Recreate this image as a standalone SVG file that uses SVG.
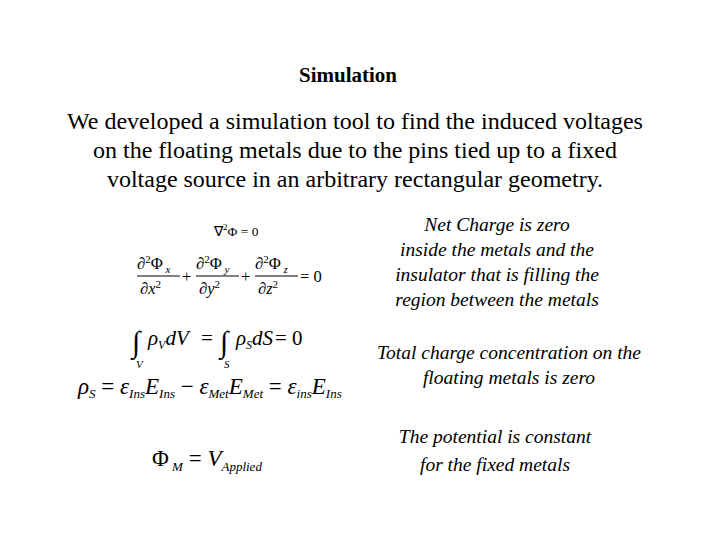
<svg xmlns="http://www.w3.org/2000/svg" width="720" height="540" viewBox="0 0 720 540">
<style>
text{font-family:"Liberation Serif","Times New Roman",serif;fill:#000}
.t{font-size:24px;text-anchor:middle}
.r{font-size:19.5px;font-style:italic;text-anchor:middle}
.m{font-size:16.5px}
.i{font-style:italic}
</style>
<rect width="720" height="540" fill="#fff"/>
<g id="title"><text x="348" y="82" font-size="21" font-weight="bold" text-anchor="middle">Simulation</text></g>
<g id="intro">
<text class="t" x="355" y="129">We developed a simulation tool to find the induced voltages</text>
<text class="t" x="355" y="158">on the floating metals  due to the pins tied up to a fixed</text>
<text class="t" x="355" y="187">voltage source in an arbitrary rectangular geometry.</text>
</g>
<g id="eq1"><text font-size="13.5" x="214" y="236">∇<tspan font-size="9" dy="-6">2</tspan><tspan dy="6">Φ = 0</tspan></text></g>
<g id="eq2">
<text class="m" x="137" y="269">∂<tspan font-size="11" dy="-6">2</tspan><tspan dy="6">Φ</tspan><tspan class="i" font-size="11" dy="4"> x</tspan></text>
<line x1="137" y1="276" x2="180" y2="276" stroke="#000" stroke-width="1"/>
<text class="m" x="140" y="294">∂<tspan class="i">x</tspan><tspan font-size="11" dy="-6">2</tspan></text>
<text class="m" x="182" y="282">+</text>
<text class="m" x="196" y="269">∂<tspan font-size="11" dy="-6">2</tspan><tspan dy="6">Φ</tspan><tspan class="i" font-size="11" dy="4"> y</tspan></text>
<line x1="196" y1="276" x2="239" y2="276" stroke="#000" stroke-width="1"/>
<text class="m" x="199" y="294">∂<tspan class="i">y</tspan><tspan font-size="11" dy="-6">2</tspan></text>
<text class="m" x="241" y="282">+</text>
<text class="m" x="255" y="269">∂<tspan font-size="11" dy="-6">2</tspan><tspan dy="6">Φ</tspan><tspan class="i" font-size="11" dy="4"> z</tspan></text>
<line x1="255" y1="276" x2="298" y2="276" stroke="#000" stroke-width="1"/>
<text class="m" x="258" y="294">∂<tspan class="i">z</tspan><tspan font-size="11" dy="-6">2</tspan></text>
<text class="m" x="300" y="282">= 0</text>
</g>
<g id="eq3">
<text x="132" y="352" font-size="30">∫</text>
<text x="136" y="368" font-size="11" class="i">V</text>
<text x="148" y="345" font-size="21" class="i">ρ<tspan font-size="12" dy="4">V</tspan><tspan dy="-4">dV</tspan></text>
<text x="201" y="345" font-size="21">=</text>
<text x="220" y="352" font-size="30">∫</text>
<text x="224" y="368" font-size="11" class="i">S</text>
<text x="236" y="345" font-size="21" class="i">ρ<tspan font-size="12" dy="4">S</tspan><tspan dy="-4">dS</tspan></text>
<text x="275" y="345" font-size="21">= 0</text>
</g>
<g id="eq4">
<text x="78" y="394" font-size="23"><tspan class="i">ρ</tspan><tspan class="i" font-size="13" dy="4">S</tspan><tspan dy="-4"> = </tspan><tspan class="i">ε</tspan><tspan class="i" font-size="13" dy="4">Ins</tspan><tspan class="i" dy="-4">E</tspan><tspan class="i" font-size="13" dy="4">Ins</tspan><tspan dy="-4"> − </tspan><tspan class="i">ε</tspan><tspan class="i" font-size="13" dy="4">Met</tspan><tspan class="i" dy="-4">E</tspan><tspan class="i" font-size="13" dy="4">Met</tspan><tspan dy="-4"> = </tspan><tspan class="i">ε</tspan><tspan class="i" font-size="13" dy="4">ins</tspan><tspan class="i" dy="-4">E</tspan><tspan class="i" font-size="13" dy="4">Ins</tspan></text>
</g>
<g id="eq5">
<text x="152" y="466" font-size="23">Φ<tspan class="i" font-size="13" dy="5"> M</tspan><tspan dy="-5"> = </tspan><tspan class="i">V</tspan><tspan class="i" font-size="13" dy="5">Applied</tspan></text>
</g>
<g id="notes">
<text class="r" x="497" y="231">Net Charge is zero</text>
<text class="r" x="497" y="256">inside the metals and the</text>
<text class="r" x="497" y="281">insulator that is filling the</text>
<text class="r" x="497" y="306">region between the metals</text>
<text class="r" x="509" y="359">Total charge concentration on the</text>
<text class="r" x="509" y="384">floating metals is zero</text>
<text class="r" x="495" y="443">The potential is constant</text>
<text class="r" x="495" y="471">for the fixed metals</text>
</g>
</svg>
